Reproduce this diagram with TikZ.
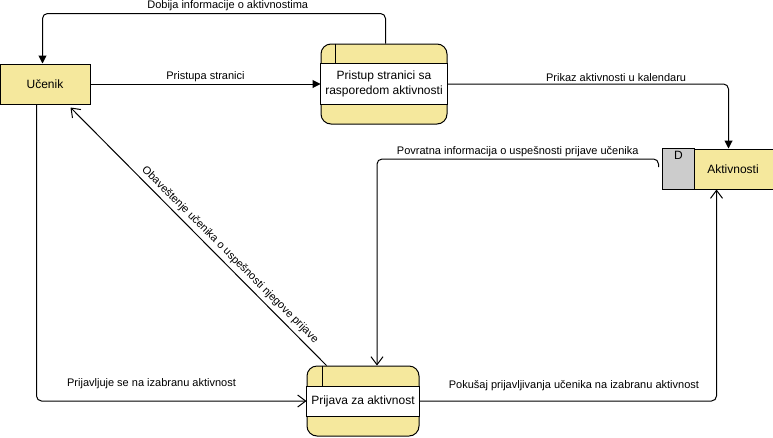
\documentclass[tikz,border=0pt]{standalone}
\usepackage{fontspec}
\setmainfont{Liberation Sans}
\usetikzlibrary{arrows.meta, calc}
\definecolor{dfdYellow}{RGB}{245,232,157}
\definecolor{dfdGray}{RGB}{204,204,204}
\tikzstyle{entity}=[draw=black, fill=dfdYellow, minimum width=90pt, minimum height=40pt, inner sep=0pt, font=\fontsize{12}{15}\selectfont]
\tikzstyle{process}=[draw=black, fill=dfdYellow, rounded corners=10pt, inner sep=0pt]
\tikzstyle{caption}=[align=center, inner sep=0pt, font=\fontsize{12}{15}\selectfont]
\tikzstyle{lbl}=[inner sep=2pt, font=\fontsize{11}{13}\selectfont]
\tikzstyle{flow}=[draw=black, rounded corners=5pt, -{Triangle[length=8pt,width=8pt]}]
\tikzstyle{feedback}=[draw=black, rounded corners=5pt, -{Straight Barb[length=8pt,width=12pt]}]

\begin{document}
\begin{tikzpicture}[x=1pt, y=-1pt, line width=1pt]
				\useasboundingbox (0,0) rectangle (773,437);

				\node[entity] (ucenik) at (45,84) {Učenik};

				\node[process, minimum width=126pt, minimum height=80pt] (pristup) at (384,84) {};
				\draw[fill=white] ($(pristup.north west)+(0,20)$) rectangle ($(pristup.south east)+(0,-20)$);
				\draw ($(pristup.north west)+(15,0)$) -- ($(pristup.north west)+(15,20)$);
				\node[caption] (pristupTekst) at (pristup.center) {Pristup stranici sa\\rasporedom aktivnosti};

				\node[process, minimum width=112pt, minimum height=70pt] (prijava) at (363,401) {};
				\draw[fill=white] ($(prijava.north west)+(0,21)$) rectangle ($(prijava.south east)+(0,-20)$);
				\draw ($(prijava.north west)+(16,0)$) -- ($(prijava.north west)+(16,21)$);
				\node[caption] (prijavaTekst) at (prijava.center) {Prijava za aktivnost};

				\node[draw=black, fill=dfdYellow, minimum width=130pt, minimum height=40pt, inner sep=0pt] (aktivnosti) at (728,169) {};
				\draw[fill=dfdGray] (aktivnosti.north west) rectangle ($(aktivnosti.south west)+(32,0)$);
				\node[caption] (aktivnostiTekst) at (733,169) {Aktivnosti};
				\node[caption, anchor=north] (oznakaD) at ($(aktivnosti.north west)+(16,2)$) {D};

				\draw[flow] (ucenik.east) -- node[lbl, above] {Pristupa stranici} (pristup.west);
				\draw[flow] ($(pristup.north west)+(65,0)$) -- ++(0,-30) -| node[lbl, above, pos=0.23] {Dobija informacije o aktivnostima} ($(ucenik.north west)+(43,0)$);
				\draw[flow] (pristup.east) -| node[lbl, above, pos=0.3] {Prikaz aktivnosti u kalendaru} ($(aktivnosti.north west)+(66,0)$);
				\draw[feedback] ($(aktivnosti.west)+(-4,-2)$) -- ++(0,-8) -| node[lbl, above, pos=0.25] {Povratna informacija o uspešnosti prijave učenika} ($(prijava.north)+(14,0)$);
				\draw[feedback] (prijava.east) -| node[lbl, above=8pt, pos=0.26] {Pokušaj prijavljivanja učenika na izabranu aktivnost} ($(aktivnosti.south west)+(54,0)$);
				\draw[feedback] ($(ucenik.south west)+(37,0)$) |- node[lbl, above=10pt, pos=0.713] {Prijavljuje se na izabranu aktivnost} (prijava.west);
				\draw[feedback] ($(prijava.north west)+(20,0)$) -- ($(ucenik.south east)+(-20,3)$);
				\node[lbl, rotate=-45] (obavestenje) at (230,255) {Obaveštenje učenika o uspešnosti njegove prijave};
			\end{tikzpicture}
\end{document}
